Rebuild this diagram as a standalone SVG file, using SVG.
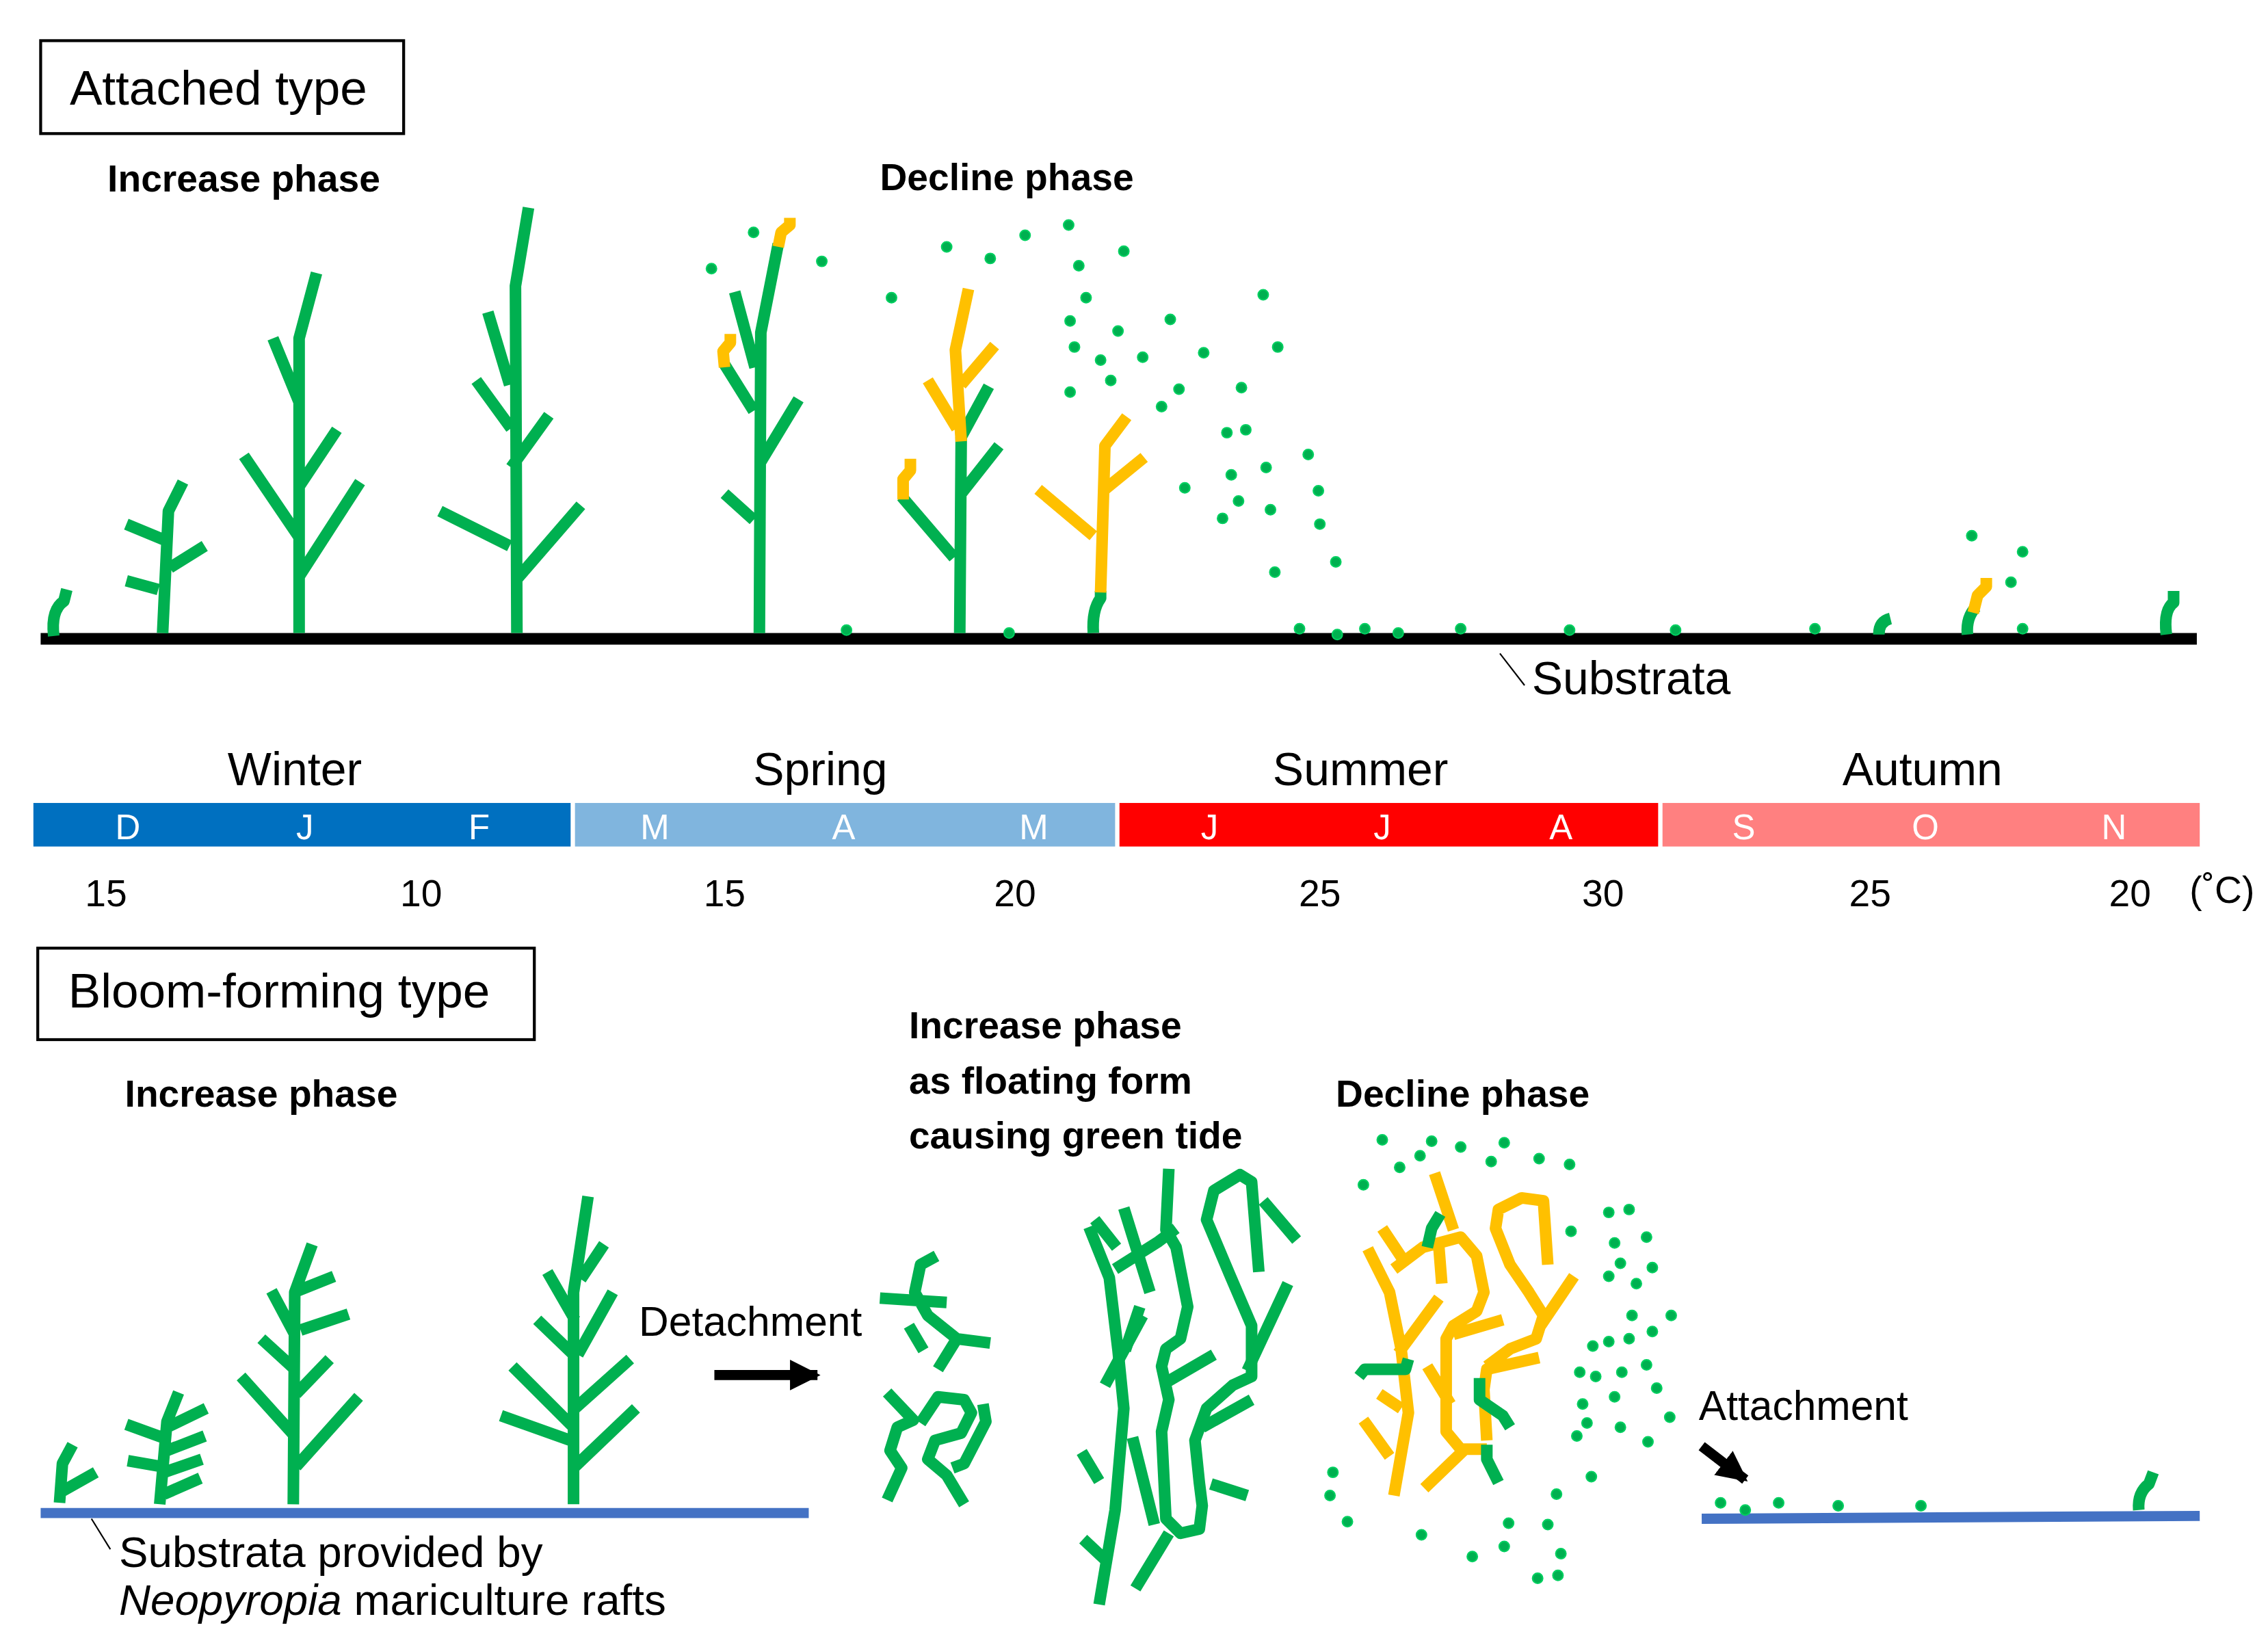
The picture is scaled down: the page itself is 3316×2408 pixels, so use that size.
<svg xmlns="http://www.w3.org/2000/svg" width="3316" height="2408" viewBox="0 0 3316 2408">
<style>
text{font-family:"Liberation Sans",Arial,sans-serif;fill:#000}
.t{font-size:32px}
.b{font-size:26px;font-weight:bold}
.m{font-size:24px;fill:#fff;text-anchor:middle}
.n{font-size:26px;text-anchor:middle}
.s{font-size:32px;text-anchor:middle}
.g{fill:none;stroke:#00B050;stroke-width:8;stroke-linejoin:round}
.y{fill:none;stroke:#FFC000;stroke-width:8;stroke-linejoin:round}
.d{fill:#00B050;stroke:#00D060;stroke-width:1}
</style>
<defs><marker id="ah" viewBox="0 0 10 10" refX="9" refY="5" markerWidth="3" markerHeight="3" orient="auto"><path d="M0,0L10,5L0,10z" fill="#000"/></marker></defs>
<rect width="3316" height="2408" fill="#fff"/>
<g transform="scale(2.1229)">
<g id="attached-title"><rect x="28" y="28" width="250" height="64" fill="none" stroke="#000" stroke-width="2"/><text x="48" y="72" class="t" style="font-size:33.5px">Attached type</text></g>
<text x="74" y="132" class="b">Increase phase</text>
<text x="606" y="131" class="b">Decline phase</text>
<g id="substrata"><line x1="28" y1="440" x2="1513" y2="440" stroke="#000" stroke-width="8"/><line x1="1033" y1="450" x2="1050" y2="472" stroke="#000" stroke-width="1"/><text x="1055" y="478" class="t">Substrata</text></g>
<g id="attached-plants">
<path class="g" d="M37,438 Q35,420 44,414 L46,406"/>
<path class="g" d="M112,436 L116,352 L126,332 M87,361 L116,373 M87,400 L109,406 M117,391 L141,376"/>
<path class="g" d="M206,436 L206,233 L218,188 M188,233 L206,277 M232,296 L206,335 M168,314 L206,370 M248,332 L206,397"/>
<path class="g" d="M356,436 L355,197 L364,143 M336,215 L351,265 M328,262 L352,295 M378,286 L352,322 M303,352 L351,376 M400,348 L355,400"/>
<path class="g" d="M523,436 L524,229 L536,168 M506,201 L520,253 M499,251 L519,283 M550,275 L524,318 M499,340 L519,358"/>
<path class="y" d="M536,170 L538,160 L544,155 L544,150 M499,253 L498,242 L503,236 L503,230"/>
<path class="g" d="M661,436 L662,301 M681,266 L662,301 M688,307 L662,340 M621,342 L657,384"/>
<path class="y" d="M662,304 L658,241 L667,199 M639,262 L659,295 M685,238 L662,265 M622,344 L622,330 L627,324 L627,316"/>
<path class="g" d="M753,436 Q752,420 758,412 L758,407"/>
<path class="y" d="M758,408 L761,307 L776,287 M715,337 L753,369 M788,315 L761,337"/>
<path class="g" d="M1294,437 Q1294,428 1302,426"/>
<path class="g" d="M1355,437 Q1354,425 1361,418"/>
<path class="y" d="M1359,422 L1362,410 L1368,404 L1368,398"/>
<path class="g" d="M1492,437 Q1490,420 1497,415 L1497,407"/>
</g>
<g id="attached-dots" class="d">
<circle cx="519" cy="160" r="3.5"/><circle cx="490" cy="185" r="3.5"/><circle cx="566" cy="180" r="3.5"/><circle cx="614" cy="205" r="3.5"/><circle cx="652" cy="170" r="3.5"/><circle cx="682" cy="178" r="3.5"/><circle cx="706" cy="162" r="3.5"/><circle cx="736" cy="155" r="3.5"/><circle cx="743" cy="183" r="3.5"/><circle cx="774" cy="173" r="3.5"/><circle cx="748" cy="205" r="3.5"/><circle cx="737" cy="221" r="3.5"/><circle cx="770" cy="228" r="3.5"/><circle cx="758" cy="248" r="3.5"/><circle cx="787" cy="246" r="3.5"/><circle cx="806" cy="220" r="3.5"/><circle cx="740" cy="239" r="3.5"/><circle cx="737" cy="270" r="3.5"/><circle cx="765" cy="262" r="3.5"/><circle cx="800" cy="280" r="3.5"/><circle cx="829" cy="243" r="3.5"/><circle cx="812" cy="268" r="3.5"/><circle cx="855" cy="267" r="3.5"/><circle cx="870" cy="203" r="3.5"/><circle cx="880" cy="239" r="3.5"/><circle cx="845" cy="298" r="3.5"/><circle cx="858" cy="296" r="3.5"/><circle cx="848" cy="327" r="3.5"/><circle cx="816" cy="336" r="3.5"/><circle cx="872" cy="322" r="3.5"/><circle cx="853" cy="345" r="3.5"/><circle cx="842" cy="357" r="3.5"/><circle cx="901" cy="313" r="3.5"/><circle cx="875" cy="351" r="3.5"/><circle cx="908" cy="338" r="3.5"/><circle cx="909" cy="361" r="3.5"/><circle cx="920" cy="387" r="3.5"/><circle cx="878" cy="394" r="3.5"/>
<circle cx="583" cy="434" r="3.5"/><circle cx="695" cy="436" r="3.5"/><circle cx="895" cy="433" r="3.5"/><circle cx="921" cy="437" r="3.5"/><circle cx="940" cy="433" r="3.5"/><circle cx="963" cy="436" r="3.5"/><circle cx="1006" cy="433" r="3.5"/><circle cx="1081" cy="434" r="3.5"/><circle cx="1154" cy="434" r="3.5"/><circle cx="1250" cy="433" r="3.5"/><circle cx="1393" cy="433" r="3.5"/><circle cx="1358" cy="369" r="3.5"/><circle cx="1393" cy="380" r="3.5"/><circle cx="1385" cy="401" r="3.5"/>
</g>
<g id="season-bar">
<rect x="23" y="553" width="370" height="30" fill="#0070C0"/><rect x="396" y="553" width="372" height="30" fill="#80B5DE"/><rect x="771" y="553" width="371" height="30" fill="#FF0000"/><rect x="1145" y="553" width="370" height="30" fill="#FF8080"/>
<text x="203" y="541" class="s">Winter</text><text x="565" y="541" class="s">Spring</text><text x="937" y="541" class="s">Summer</text><text x="1324" y="541" class="s">Autumn</text>
<text x="88" y="578" class="m">D</text><text x="210" y="578" class="m">J</text><text x="330" y="578" class="m">F</text><text x="451" y="578" class="m">M</text><text x="581" y="578" class="m">A</text><text x="712" y="578" class="m">M</text><text x="833" y="578" class="m">J</text><text x="952" y="578" class="m">J</text><text x="1075" y="578" class="m">A</text><text x="1201" y="578" class="m">S</text><text x="1326" y="578" class="m">O</text><text x="1456" y="578" class="m">N</text>
<text x="73" y="624" class="n">15</text><text x="290" y="624" class="n">10</text><text x="499" y="624" class="n">15</text><text x="699" y="624" class="n">20</text><text x="909" y="624" class="n">25</text><text x="1104" y="624" class="n">30</text><text x="1288" y="624" class="n">25</text><text x="1467" y="624" class="n">20</text><text x="1508" y="622" style="font-size:26px">(˚C)</text>
</g>
<g id="bloom-title"><rect x="26" y="653" width="342" height="63" fill="none" stroke="#000" stroke-width="2"/><text x="47" y="694" class="t" style="font-size:33.5px">Bloom-forming type</text></g>
<text x="86" y="762" class="b">Increase phase</text>
<text class="b"><tspan x="626" y="715">Increase phase</tspan><tspan x="626" y="753">as floating form</tspan><tspan x="626" y="791">causing green tide</tspan></text>
<text x="920" y="762" class="b">Decline phase</text>
<g id="rafts"><line x1="28" y1="1042" x2="557" y2="1042" stroke="#4472C4" stroke-width="7"/><line x1="1172" y1="1046" x2="1515" y2="1044" stroke="#4472C4" stroke-width="7"/><line x1="63" y1="1046" x2="76" y2="1067" stroke="#000" stroke-width="1"/>
<text x="82" y="1079" class="t" style="font-size:30px">Substrata provided by</text><text x="82" y="1112" class="t" style="font-size:30px"><tspan font-style="italic">Neopyropia</tspan> mariculture rafts</text></g>
<g id="bloom-plants">
<path class="g" d="M41,1035 L43,1008 L50,995 M43,1027 L66,1014"/>
<path class="g" d="M110,1036 L115,979 L123,959 M87,981 L112,990 M88,1006 L111,1010 M142,970 L115,983 M141,989 L115,999 M139,1005 L113,1014 M138,1018 L113,1029"/>
<path class="g" d="M202,1036 L203,890 L215,857 M187,889 L203,919 M180,922 L203,943 M166,948 L203,989 M230,879 L205,889 M240,905 L207,916 M227,936 L204,960 M247,962 L204,1010"/>
<path class="g" d="M395,1036 L395,890 L405,824 M416,857 L400,881 M377,876 L396,909 M422,890 L398,933 M370,909 L395,933 M434,936 L396,970 M353,941 L395,983 M438,970 L395,1011 M345,975 L393,992"/>
</g>
<g id="floating" >
<path class="g" d="M645,865 L634,871 L630,890 L639,906 L659,922 L682,925 M606,894 L652,897 M659,922 L646,943 M626,913 L636,930"/>
<path class="g" d="M611,959 L629,978 L618,983 L613,999 L621,1011 L611,1033 M634,980 L646,962 L664,964 L669,973 L662,987 L644,992 L639,1005 L652,1016 L664,1036 M677,967 L679,979 L664,1008 L656,1011"/>
<path class="g" d="M805,805 L803,847 L810,859 L818,900 L813,922 L803,929 L800,941 L805,964 L800,986 L803,1046 L813,1056 L826,1053 L828,1037 L826,1021 L823,992 L831,970 L849,954 L862,948 L862,913 L847,878 L831,840 L836,820 L854,809 L862,814 L867,876"/>
<path class="g" d="M870,827 L893,854 M887,884 L859,944 M836,933 L805,951 M862,964 L828,983 M834,1022 L859,1030 M805,1056 L782,1094 M787,906 L761,954"/>
<path class="g" d="M757,1105 L768,1040 L774,970 L770,930 L764,880 L750,845 M768,874 L798,855 L810,846 M774,832 L792,890 M754,840 L769,859 M745,1000 L757,1020 M746,1060 L762,1075 M780,990 L795,1050 M785,900 L775,930"/>
<path class="y" d="M988,808 L1001,847 M942,860 L957,890 L965,929 L970,973 L960,1030 M952,846 L968,870 M960,874 L980,859 L1006,852 L1017,865 L1022,890 L1017,903 L1001,913 L996,922 L996,986 L1006,998 L1024,998 M991,859 L993,884 M991,894 L963,932 M1001,919 L1035,909 M1060,935 L1024,943 L1022,957 L1024,992 M1066,871 L1063,827 L1048,825 L1032,833 L1030,846 L1040,871 L1053,890 L1063,906 L1058,922 L1040,929 L1024,941 M1084,879 L1061,913 M983,941 L999,967 M950,960 L965,970 M939,978 L957,1003 M1009,998 L981,1025"/>
<path class="g" d="M992,836 L986,846 L983,859 M936,948 L940,943 L968,943 L970,936 M1019,949 L1019,964 L1035,975 L1040,983 M1024,995 L1024,1005 L1032,1021"/>
</g>
<g id="bloom-dots" class="d">
<circle cx="952" cy="785" r="3.5"/><circle cx="986" cy="786" r="3.5"/><circle cx="1006" cy="790" r="3.5"/><circle cx="1036" cy="787" r="3.5"/><circle cx="978" cy="796" r="3.5"/><circle cx="964" cy="804" r="3.5"/><circle cx="1027" cy="800" r="3.5"/><circle cx="1060" cy="798" r="3.5"/><circle cx="1081" cy="802" r="3.5"/><circle cx="939" cy="816" r="3.5"/><circle cx="1108" cy="835" r="3.5"/><circle cx="1122" cy="833" r="3.5"/><circle cx="1082" cy="848" r="3.5"/><circle cx="1112" cy="856" r="3.5"/><circle cx="1134" cy="852" r="3.5"/><circle cx="1116" cy="870" r="3.5"/><circle cx="1138" cy="873" r="3.5"/><circle cx="1108" cy="879" r="3.5"/><circle cx="1127" cy="884" r="3.5"/><circle cx="1124" cy="906" r="3.5"/><circle cx="1151" cy="906" r="3.5"/><circle cx="1097" cy="927" r="3.5"/><circle cx="1108" cy="924" r="3.5"/><circle cx="1122" cy="922" r="3.5"/><circle cx="1138" cy="917" r="3.5"/><circle cx="1088" cy="945" r="3.5"/><circle cx="1099" cy="948" r="3.5"/><circle cx="1117" cy="945" r="3.5"/><circle cx="1134" cy="940" r="3.5"/><circle cx="1141" cy="956" r="3.5"/><circle cx="1112" cy="962" r="3.5"/><circle cx="1090" cy="967" r="3.5"/><circle cx="1150" cy="976" r="3.5"/><circle cx="1093" cy="980" r="3.5"/><circle cx="1116" cy="983" r="3.5"/><circle cx="1086" cy="989" r="3.5"/><circle cx="1135" cy="993" r="3.5"/><circle cx="1096" cy="1017" r="3.5"/><circle cx="918" cy="1014" r="3.5"/><circle cx="916" cy="1030" r="3.5"/><circle cx="928" cy="1048" r="3.5"/><circle cx="1072" cy="1029" r="3.5"/><circle cx="979" cy="1057" r="3.5"/><circle cx="1039" cy="1049" r="3.5"/><circle cx="1066" cy="1050" r="3.5"/><circle cx="1036" cy="1065" r="3.5"/><circle cx="1075" cy="1070" r="3.5"/><circle cx="1014" cy="1072" r="3.5"/><circle cx="1059" cy="1087" r="3.5"/><circle cx="1073" cy="1085" r="3.5"/>
<circle cx="1185" cy="1035" r="3.5"/><circle cx="1202" cy="1040" r="3.5"/><circle cx="1225" cy="1035" r="3.5"/><circle cx="1266" cy="1037" r="3.5"/><circle cx="1323" cy="1037" r="3.5"/>
</g>
<path class="g" d="M1473,1040 Q1472,1028 1480,1022 L1483,1014"/>
<g id="connectors">
<line x1="492" y1="947" x2="563" y2="947" stroke="#000" stroke-width="7" marker-end="url(#ah)"/>
<line x1="1172" y1="996" x2="1202" y2="1019" stroke="#000" stroke-width="7" marker-end="url(#ah)"/>
</g>
<text x="440" y="920" class="t" style="font-size:28.5px">Detachment</text>
<text x="1170" y="978" class="t" style="font-size:28.5px">Attachment</text>
</g>
</svg>
